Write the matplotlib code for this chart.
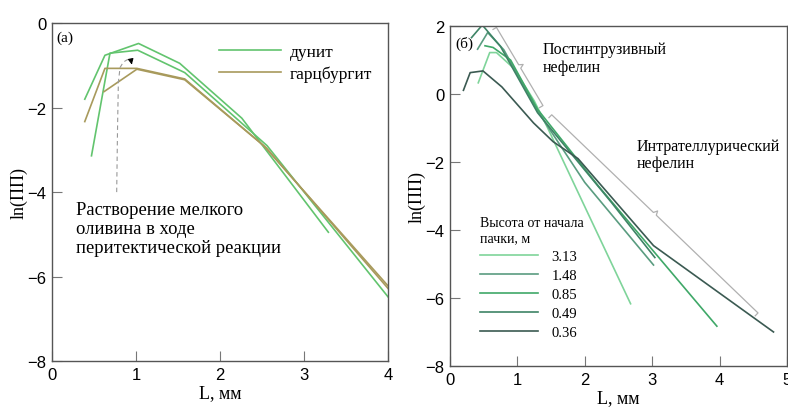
import numpy as np
from matplotlib import pyplot as plt

# panel (a): L, mm and ln(PP)
dun1_x = [0.39, 0.63, 1.03, 1.52, 2.26, 3.29]
dun1_y = [-1.80, -0.76, -0.48, -0.95, -2.25, -4.95]
dun2_x = [0.47, 0.69, 1.02, 1.58, 2.56, 4.00]
dun2_y = [-3.14, -0.71, -0.64, -1.17, -2.90, -6.48]
har1_x = [0.39, 0.63, 1.01, 1.58, 2.52, 4.00]
har1_y = [-2.33, -1.07, -1.07, -1.32, -2.90, -6.22]
har2_x = [0.62, 1.01, 1.58, 2.55, 4.00]
har2_y = [-1.62, -1.09, -1.34, -2.95, -6.28]
dash_x = [0.77, 0.78, 0.79, 0.81, 0.85, 0.90, 0.94]
dash_y = [-4.00, -2.50, -1.40, -1.05, -0.92, -0.86, -0.88]

# panel (b): height from bottom of unit, m
heights = ['3.13', '1.48', '0.85', '0.49', '0.36']
b_x = [
    [0.42, 0.59, 0.69, 0.95, 1.25, 1.45, 2.68],
    [0.41, 0.56, 0.80, 1.30, 2.00, 3.02],
    [0.52, 0.64, 0.90, 1.30, 2.20, 3.96],
    [0.32, 0.48, 0.75, 1.30, 2.40, 3.04],
    [0.20, 0.30, 0.49, 0.77, 1.24, 1.53, 1.90, 3.02, 4.80],
]
b_y = [
    [0.33, 1.22, 1.22, 0.75, -0.20, -1.00, -6.17],
    [1.32, 1.81, 1.30, -0.50, -2.60, -5.03],
    [1.42, 1.37, 1.00, -0.45, -2.70, -6.83],
    [1.66, 2.03, 1.40, -0.55, -3.20, -4.81],
    [0.11, 0.63, 0.68, 0.21, -0.85, -1.40, -1.90, -4.46, -7.00],
]
b_colors = ['#7fd49a', '#5a9c80', '#3fa868', '#3e8466', '#3b5a52']
brace1 = [(0.69, 1.96), (1.38, -0.34)]
brace2 = [(1.51, -0.61), (4.57, -6.44)]

plt.rcParams['font.family'] = ['Liberation Sans', 'DejaVu Sans']
serif = ['Liberation Serif', 'DejaVu Serif']

fig = plt.figure(figsize=(7.88, 4.10), dpi=100)
ax1 = fig.add_axes([0.066, 0.117, 0.4264, 0.824])
ax2 = fig.add_axes([0.571, 0.105, 0.4277, 0.829])

green = '#62c46e'
tan = '#a89a5c'
ax1.plot(dun1_x, dun1_y, color=green, lw=1.2, label='дунит')
ax1.plot(dun2_x, dun2_y, color=green, lw=1.2)
ax1.plot(har1_x, har1_y, color=tan, lw=1.2, label='гарцбургит')
ax1.plot(har2_x, har2_y, color=tan, lw=1.2)
ax1.plot(dash_x, dash_y, color='#999999', lw=0.8, ls=(0, (4, 3)))
ax1.annotate('', xy=(0.95, -0.98), xytext=(dash_x[-1], dash_y[-1]),
             arrowprops=dict(arrowstyle='-|>', color='black', lw=0.8,
                             mutation_scale=8))
ax1.text(0.29, -4.22, 'Растворение мелкого\nоливина в ходе\nперитектической реакции',
         family=serif, fontsize=13.4, va='top', linespacing=1.12)
ax1.text(0.05, -0.33, '(a)', family=serif, fontsize=11, va='center')
ax1.legend(loc='upper right', bbox_to_anchor=(1.0, 0.985), frameon=False,
           prop={'family': serif, 'size': 12.5}, handlelength=3.6,
           handletextpad=0.5, labelspacing=0.3)
ax1.set_xlim(0, 4)
ax1.set_ylim(-8, 0)
ax1.set_xticks([0, 1, 2, 3, 4])
ax1.set_yticks([-8, -6, -4, -2, 0])

for xs, ys, c, h in zip(b_x, b_y, b_colors, heights):
    ax2.plot(xs, ys, color=c, lw=1.2, label=h)


def brace(ax, p0, p1):
    # simple bracket drawn in pixel space
    t = ax.transData
    a = np.array(t.transform(p0))
    b = np.array(t.transform(p1))
    d = (b - a) / np.linalg.norm(b - a)
    n = np.array([-d[1], d[0]])
    if n[0] < 0:
        n = -n
    m = (a + b) / 2
    pts = [a - 4 * n, a, m - 2 * d, m + 4 * n, m + 2 * d, b, b - 4 * n]
    pts = t.inverted().transform(np.array(pts))
    ax.plot(pts[:, 0], pts[:, 1], color='#b0b0b0', lw=0.9)


ax2.set_xlim(0, 5)
ax2.set_ylim(-8, 2)
brace(ax2, *brace1)
brace(ax2, *brace2)
ax2.text(1.38, 1.55, 'Постинтрузивный\nнефелин', family=serif, fontsize=11.5,
         va='top', linespacing=1.1)
ax2.text(2.77, -1.30, 'Интрателлурический\nнефелин', family=serif, fontsize=11.5,
         va='top', linespacing=1.1)
ax2.text(0.08, 1.5, '(б)', family=serif, fontsize=11, va='center')
leg = ax2.legend(loc='upper left', bbox_to_anchor=(0.05, 0.48), frameon=False,
                 title='Высота от начала\nпачки, м',
                 prop={'family': serif, 'size': 10.5}, handlelength=4.0,
                 handletextpad=0.9, labelspacing=0.4)
leg.get_title().set_family(serif)
leg.get_title().set_fontsize(10)
leg._legend_box.align = 'left'
ax2.set_xticks([0, 1, 2, 3, 4, 5])
ax2.set_yticks([-8, -6, -4, -2, 0, 2])

for ax in (ax1, ax2):
    for s in ax.spines.values():
        s.set_color('#555555')
        s.set_linewidth(1.0)
    ax.tick_params(direction='in', length=7, width=0.8, color='#777777',
                   labelsize=12, pad=4)
    ax.set_xlabel('L, мм', family=serif, fontsize=13, labelpad=2)
    ax.set_ylabel('ln(ПП)', family=serif, fontsize=13, labelpad=0)

fig.savefig('out.png', dpi=100)
